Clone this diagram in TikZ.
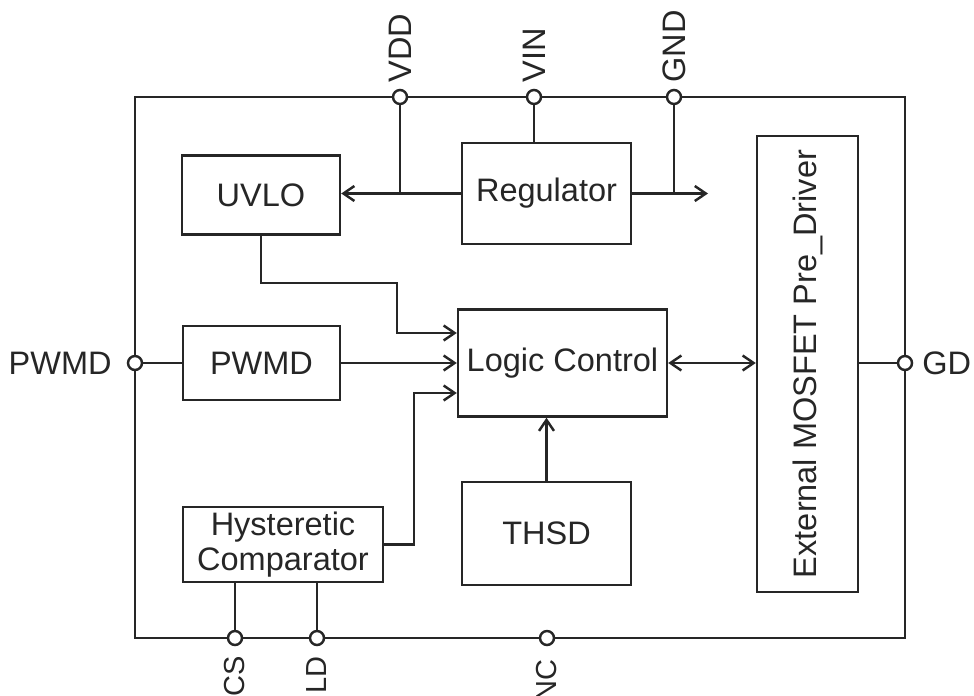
\documentclass[tikz,border=0pt]{standalone}
\usepackage{fontspec}
\setmainfont{Liberation Sans}
\usepackage{tikz}
\usetikzlibrary{arrows.meta,calc}
\definecolor{ink}{HTML}{262626}
\tikzset{
  blk/.style={rectangle, draw=ink, line width=1.4pt, align=center, text=ink, inner sep=2pt},
  padcirc/.style={circle, draw=ink, line width=1.4pt, fill=white, minimum size=0.28cm, inner sep=0pt},
  padlabel/.style={text=ink, inner sep=0pt},
  smalllabel/.style={padlabel, font=\fontsize{16.5}{18}\selectfont},
  wire/.style={draw=ink, line width=1.4pt},
  arrow/.style={wire, -{Straight Barb[length=2.2mm,width=3mm]}},
  biarrow/.style={wire, {Straight Barb[length=2.2mm,width=3mm]}-{Straight Barb[length=2.2mm,width=3mm]}}
}

\begin{document}
\begin{tikzpicture}[x=0.02cm, y=-0.02cm, font=\fontsize{18.5}{19.5}\selectfont]
  \useasboundingbox (0,0) rectangle (974,696);
  \node[blk, minimum width=15.4cm, minimum height=10.82cm] (chip) at (520,367.5) {};

  \node[blk, minimum width=3.16cm, minimum height=1.58cm] (uvlo) at (261,195) {UVLO};
  \node[blk, minimum width=3.38cm, minimum height=2.02cm] (reg) at (546.5,193.5) {Regulator};
  \node[blk, minimum width=3.14cm, minimum height=1.48cm] (pwmdbox) at (261.5,363) {PWMD};
  \node[blk, minimum width=4.18cm, minimum height=2.14cm] (logic) at (562.5,363) {Logic Control};
  \node[blk, minimum width=4.0cm, minimum height=1.5cm] (hyst) at (283,544.5) {Hysteretic\\Comparator};
  \node[blk, minimum width=3.38cm, minimum height=2.06cm] (thsd) at (546.5,533.5) {THSD};
  \node[blk, minimum width=2.02cm, minimum height=9.12cm] (driver) at (807.5,364) {};
  \node[padlabel, rotate=90] (driverlabel) at (driver.center) {External MOSFET Pre\_Driver};

  % pads on the chip edge
  \node[padcirc] (vdd) at (400,97) {};
  \node[padcirc] (vin) at (534,97) {};
  \node[padcirc] (gnd) at (674,97) {};
  \node[padcirc] (pwmdpad) at (135,363) {};
  \node[padcirc] (gd) at (905,363) {};
  \node[padcirc] (cs) at (235,638) {};
  \node[padcirc] (ld) at (317,638) {};
  \node[padcirc] (nc) at (547,638) {};

  \node[padlabel, rotate=90, anchor=west] (vddlabel) at (400,83) {VDD};
  \node[padlabel, rotate=90, anchor=west] (vinlabel) at (534,83) {VIN};
  \node[padlabel, rotate=90, anchor=west] (gndlabel) at (674,83) {GND};
  \node[padlabel, anchor=east] (pwmdlabel) at (112,363) {PWMD};
  \node[padlabel, anchor=west] (gdlabel) at (922,363) {GD};
  \node[smalllabel, rotate=90, anchor=east] (cslabel) at (235,656) {CS};
  \node[smalllabel, rotate=90, anchor=east] (ldlabel) at (317,656) {LD};
  \node[smalllabel, rotate=90, anchor=east] (nclabel) at (547,659) {NC};

  \coordinate (gndtip) at (708,193.5);
  \coordinate (uvlobend) at (397,283);
  \coordinate (hystbend) at (414,544.5);

  \draw[wire] (vin) -- (vin |- reg.north);
  \draw[arrow] (reg.west) -- (reg.west -| uvlo.east);
  \draw[wire] (vdd) -- (vdd |- reg.west);
  \draw[arrow] (reg.east) -- (gndtip);
  \draw[wire] (gnd) -- (gnd |- gndtip);
  \draw[arrow] (uvlo.south) |- (uvlobend) |- ($(logic.west)+(0,-30)$);
  \draw[wire] (pwmdpad) -- (pwmdbox);
  \draw[arrow] (pwmdbox) -- (logic);
  \draw[arrow] (hyst.east) -- (hystbend) |- ($(logic.west)+(0,30)$);
  \draw[arrow] (thsd.north) -- (thsd.north |- logic.south);
  \draw[biarrow] (logic.east) -- (logic.east -| driver.west);
  \draw[wire] (driver.east |- gd) -- (gd);
  \draw[wire] (cs |- hyst.south) -- (cs);
  \draw[wire] (ld |- hyst.south) -- (ld);
\end{tikzpicture}
\end{document}
